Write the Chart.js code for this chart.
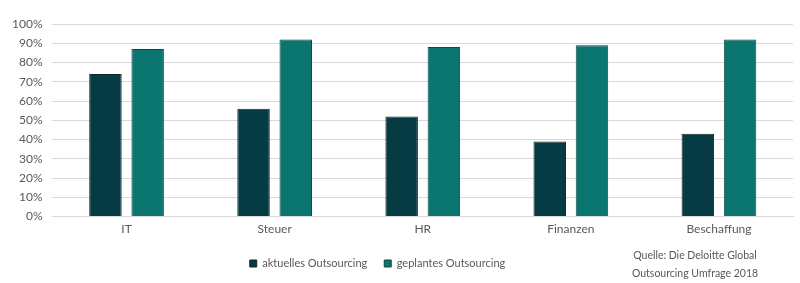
<!DOCTYPE html>
<html>
<head>
<meta charset="utf-8">
<script src="https://cdn.jsdelivr.net/npm/chart.js@4"></script>
<style>
  html, body { margin: 0; padding: 0; background: #fff; }
  #wrap { position: relative; width: 800px; height: 283px; }
  #source {
    position: absolute; left: 615px; top: 246px; width: 160px;
    font-family: Lato, sans-serif; font-size: 10.5px; line-height: 18px;
    color: #595959; text-align: center;
  }
</style>
</head>
<body>
<div id="wrap">
  <canvas id="chart" width="800" height="283"></canvas>
  <div id="source">Quelle: Die Deloitte Global<br>Outsourcing Umfrage 2018</div>
</div>
<script>
const categories = ['IT', 'Steuer', 'HR', 'Finanzen', 'Beschaffung'];
const aktuell    = [74, 56, 52, 39, 43];
const geplant    = [87, 92, 88, 89, 92];
const yTicks     = [0, 10, 20, 30, 40, 50, 60, 70, 80, 90, 100];

const DARK = '#063b43';
const TEAL = '#0b756f';
const GRID = '#d9d9d9';
const TEXT = '#595959';

// legend sits a bit left of centre in the original
const legendShift = {
  id: 'legendShift',
  afterLayout(chart) {
    chart.legend.left -= 20;
    chart.legend.right -= 20;
  }
};

new Chart(document.getElementById('chart'), {
  type: 'bar',
  data: {
    labels: categories,
    datasets: [
      {
        label: 'aktuelles Outsourcing',
        data: aktuell,
        backgroundColor: DARK,
        borderColor: '#12282b',
        borderWidth: 1,
        categoryPercentage: 0.57,
        barPercentage: 0.77,
      },
      {
        label: 'geplantes Outsourcing',
        data: geplant,
        backgroundColor: TEAL,
        borderColor: '#0e4a47',
        borderWidth: 1,
        categoryPercentage: 0.57,
        barPercentage: 0.77,
      }
    ]
  },
  options: {
    responsive: false,
    animation: false,
    layout: { padding: { left: 2, right: 7, top: 24, bottom: 4 } },
    plugins: {
      tooltip: { enabled: false },
      legend: {
        position: 'bottom',
        labels: {
          color: TEXT,
          font: { family: 'Lato', size: 11 },
          boxWidth: 7,
          boxHeight: 7,
          padding: 17,
        }
      }
    },
    scales: {
      x: {
        grid: { display: false, drawTicks: false },
        border: { color: GRID },
        ticks: { color: TEXT, font: { family: 'Lato', size: 12 }, padding: 5 }
      },
      y: {
        min: 0,
        max: 100,
        afterBuildTicks: axis => { axis.ticks = yTicks.map(v => ({ value: v })); },
        grid: { color: GRID, drawTicks: false },
        border: { display: false },
        ticks: {
          autoSkip: false,
          color: TEXT,
          font: { family: 'Lato', size: 12 },
          padding: 10,
          callback: v => v + '%'
        }
      }
    }
  },
  plugins: [legendShift]
});
</script>
</body>
</html>
